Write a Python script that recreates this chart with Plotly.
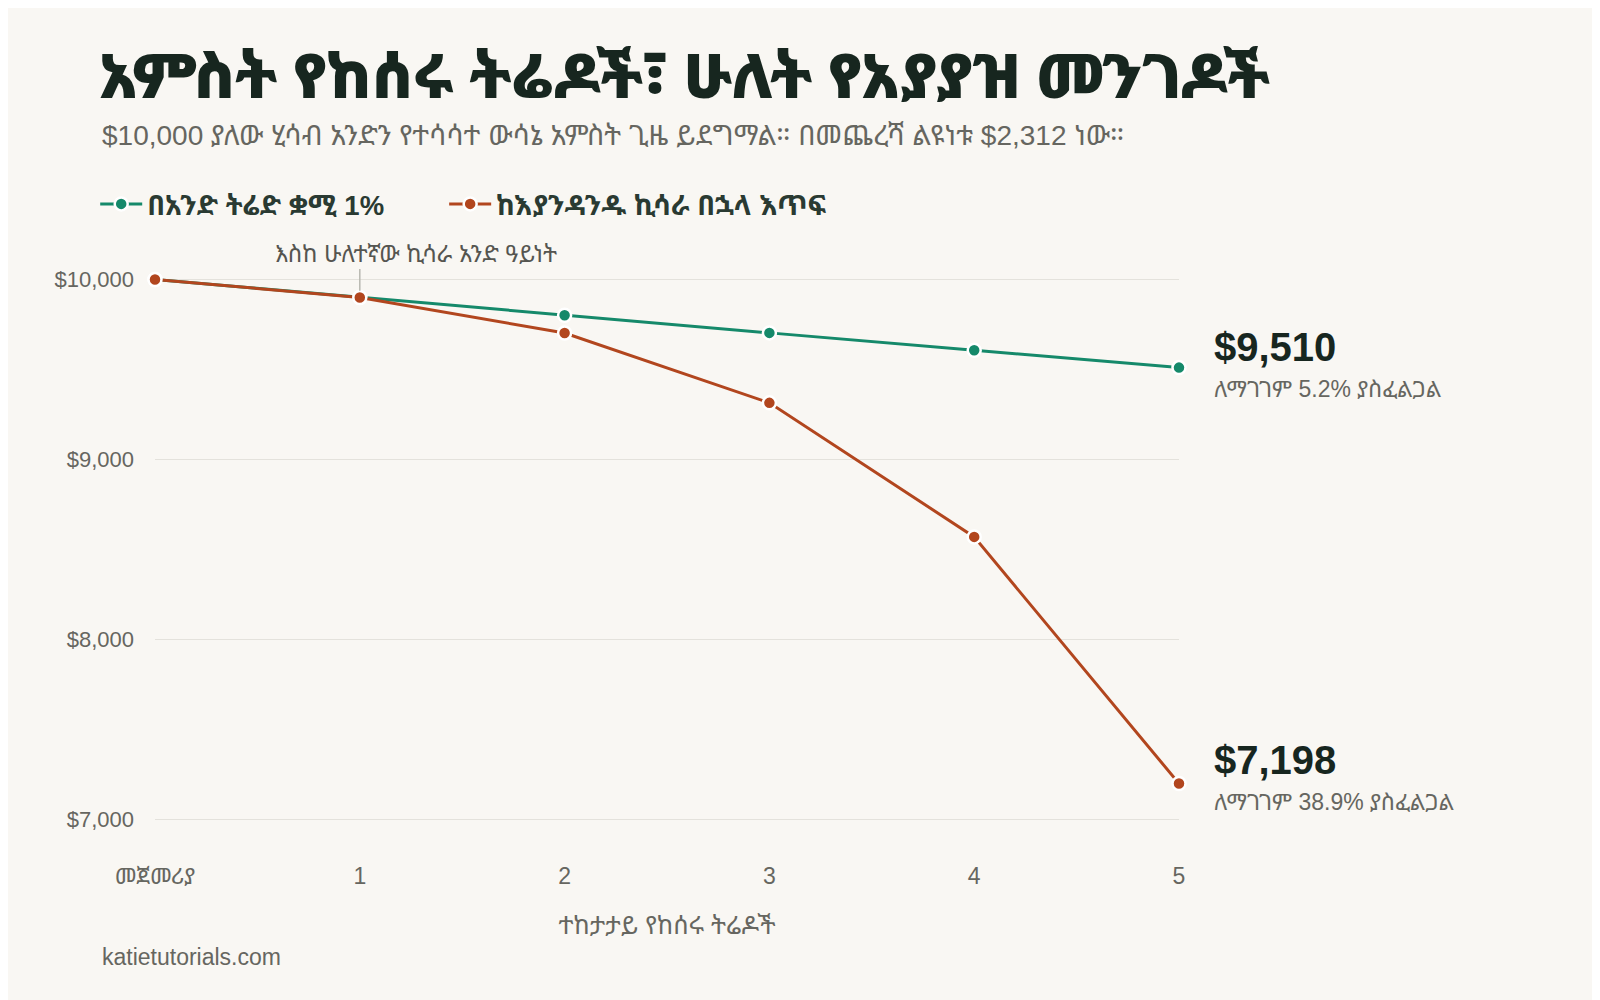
import plotly.graph_objects as go

# ===== data =====
trades = [0, 1, 2, 3, 4, 5]
tick_labels = ["መጀመሪያ", "1", "2", "3", "4", "5"]
fixed_risk = [10000, 9900, 9801, 9703, 9606, 9510]
doubling = [10000, 9900, 9702, 9314, 8569, 7198]
recovery_fixed = "5.2%"
recovery_doubling = "38.9%"

GREEN = "#15896a"
RUST = "#b2461e"
BG = "#f9f7f3"
DARK = "#17261f"
GREY = "#666660"
FONT = "Liberation Sans, Arial, Noto Sans Ethiopic, sans-serif"


def main():
    fig = go.Figure()

    fig.add_trace(go.Scatter(
        x=trades, y=fixed_risk, name="በአንድ ትሬድ ቋሚ 1%",
        mode="lines+markers", cliponaxis=False, legend="legend",
        line=dict(color=GREEN, width=3),
        marker=dict(size=13, color=GREEN, line=dict(color="white", width=2.5)),
    ))
    fig.add_trace(go.Scatter(
        x=trades, y=doubling, name="ከእያንዳንዱ ኪሳራ በኋላ እጥፍ",
        mode="lines+markers", cliponaxis=False, legend="legend2",
        line=dict(color=RUST, width=3),
        marker=dict(size=13, color=RUST, line=dict(color="white", width=2.5)),
    ))

    # titles
    fig.add_annotation(
        text="አምስት የከሰሩ ትሬዶች፣ ሁለት የአያያዝ መንገዶች",
        xref="paper", yref="paper", x=-0.058, y=1.2944,
        xanchor="left", yanchor="middle", showarrow=False,
        font=dict(size=62, color=DARK, family="Noto Sans Ethiopic", weight=900),
    )
    fig.add_annotation(
        text="$10,000 ያለው ሂሳብ አንድን የተሳሳተ ውሳኔ አምስት ጊዜ ይደግማል። በመጨረሻ ልዩነቱ $2,312 ነው።",
        xref="paper", yref="paper", x=-0.0538, y=1.1934,
        xanchor="left", yanchor="middle", showarrow=False,
        font=dict(size=28, color=GREY),
    )

    # shared-path note
    fig.add_shape(type="line", x0=1, x1=1, y0=9937, y1=10058,
                  line=dict(color="#b8b8b0", width=1.5))
    fig.add_annotation(
        text="እስከ ሁለተኛው ኪሳራ አንድ ዓይነት", x=1, y=10141, xshift=56,
        showarrow=False, yanchor="middle",
        font=dict(size=23.5, color="#555550"),
    )

    # end labels
    for val, rec, ys in [(fixed_risk[-1], recovery_fixed, (21, -21)),
                         (doubling[-1], recovery_doubling, (24, -18))]:
        fig.add_annotation(
            text=f"<b>${val:,}</b>", x=trades[-1], y=val, xshift=33, yshift=ys[0],
            xanchor="left", yanchor="middle", showarrow=False,
            font=dict(size=40, color=DARK),
        )
        fig.add_annotation(
            text=f"ለማገገም {rec} ያስፈልጋል", x=trades[-1], y=val, xshift=33, yshift=ys[1],
            xanchor="left", yanchor="middle", showarrow=False,
            font=dict(size=23, color=GREY),
        )

    fig.add_annotation(
        text="katietutorials.com", xref="paper", yref="paper",
        x=-0.0538, y=-0.1598, xanchor="left", yanchor="middle",
        showarrow=False, font=dict(size=23, color=GREY),
    )

    fig.update_xaxes(
        range=[0, 5], tickvals=trades, ticktext=tick_labels,
        showgrid=False, zeroline=False, showline=False, ticks="",
        tickfont=dict(size=23, color=GREY),
        title=dict(text="ተከታታይ የከሰሩ ትሬዶች", font=dict(size=25, color=GREY), standoff=28),
    )
    fig.update_yaxes(
        range=[6773, 10147], tickvals=[7000, 8000, 9000, 10000],
        tickformat="$,.0f", showgrid=True, gridcolor="#e4e2dc", gridwidth=1,
        zeroline=False, showline=False, ticks="", ticklabelstandoff=20,
        tickfont=dict(size=22, color=GREY),
    )

    legend_style = dict(
        orientation="h", xref="container", yref="container",
        y=0.804, xanchor="left", yanchor="middle",
        font=dict(size=27.5, color="#2a3a32", weight="bold"),
        itemwidth=42, bgcolor="rgba(0,0,0,0)",
    )

    fig.update_layout(
        width=1600, height=1000,
        margin=dict(l=147, r=429, t=245, b=148),
        paper_bgcolor=BG, plot_bgcolor=BG,
        font=dict(family=FONT, color=GREY),
        showlegend=True,
        legend=dict(x=0.0545, **legend_style),
        legend2=dict(x=0.2726, **legend_style),
    )

    fig.write_html("out.html")


if __name__ == "__main__":
    main()
